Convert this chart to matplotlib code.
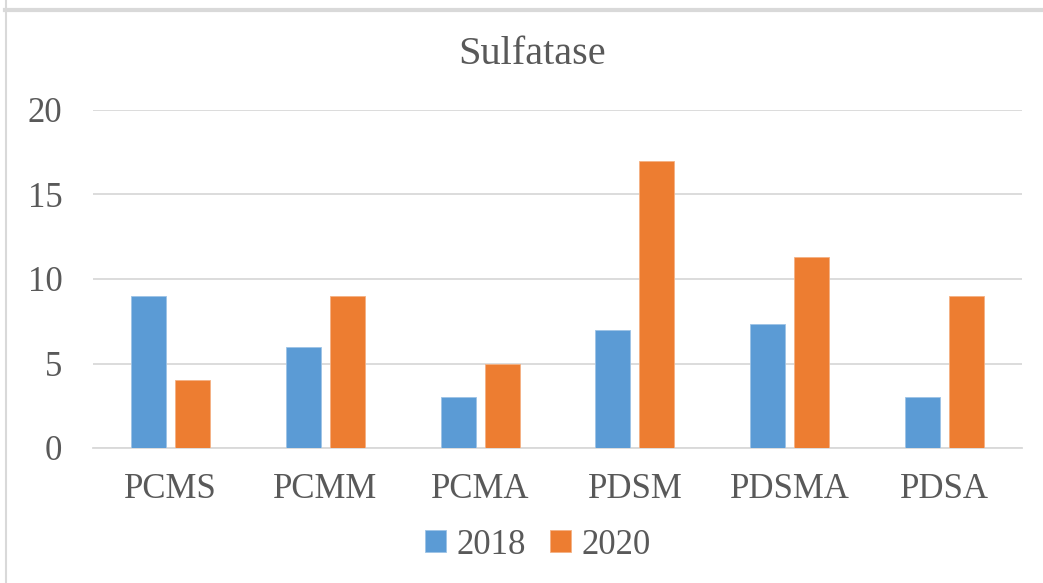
import matplotlib.pyplot as plt
import numpy as np
from matplotlib.lines import Line2D

categories = ['PCMS', 'PCMM', 'PCMA', 'PDSM', 'PDSMA', 'PDSA']
vals_2018 = [9, 6, 3, 7, 7.33, 3]
vals_2020 = [4, 9, 5, 17, 11.33, 9]
yticks = [0, 5, 10, 15, 20]

TEXT = '#595959'
GRID = '#d9d9d9'

plt.rcParams['font.family'] = ['Liberation Serif', 'DejaVu Serif']

fig = plt.figure(figsize=(10.43, 5.83), dpi=100)
ax = fig.add_axes([93 / 1043, 1 - 448 / 583, (1022 - 93) / 1043, (448 - 110) / 583])

x = np.arange(len(categories))
w = 0.226
ax.bar(x - 0.142, vals_2018, w, color='#5b9bd5', edgecolor='#9dc3e6', linewidth=0.6, label='2018', zorder=3)
ax.bar(x + 0.142, vals_2020, w, color='#ed7d31', edgecolor='#f4b183', linewidth=0.6, label='2020', zorder=3)

ax.set_xlim(-0.5, len(categories) - 0.5)
ax.set_ylim(0, 20)
ax.set_yticks(yticks)
ax.set_xticks(x)
ax.set_xticklabels(categories)
ax.grid(axis='y', color=GRID, linewidth=1.3, zorder=0)
for s in ['top', 'right', 'left']:
    ax.spines[s].set_visible(False)
ax.spines['bottom'].set_color(GRID)
ax.spines['bottom'].set_linewidth(1.3)
ax.tick_params(length=0, labelsize=25, colors=TEXT)
ax.tick_params(axis='y', pad=22)
ax.tick_params(axis='x', pad=18)

fig.text(532 / 1043, 1 - 55 / 583, 'Sulfatase', ha='center', va='center', fontsize=29, color=TEXT)

ax.legend(loc='center', bbox_to_anchor=(538 / 1043, 1 - 545 / 583), bbox_transform=fig.transFigure,
          ncol=2, frameon=False, fontsize=25, labelcolor=TEXT, handlelength=0.6, handleheight=0.6,
          handletextpad=0.3, columnspacing=0.7)

# chart frame (cropped)
fig.add_artist(Line2D([5 / 1043, 1], [1 - 10 / 583, 1 - 10 / 583], transform=fig.transFigure, color=GRID, linewidth=3))
fig.add_artist(Line2D([5.5 / 1043, 5.5 / 1043], [0, 1], transform=fig.transFigure, color=GRID, linewidth=1.5))

fig.savefig('out.png', dpi=100)
